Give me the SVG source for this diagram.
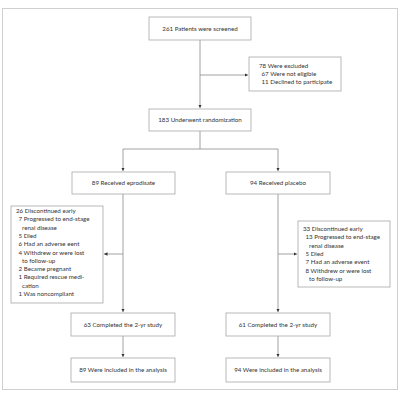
<svg xmlns="http://www.w3.org/2000/svg" width="400" height="400" viewBox="0 0 400 400">
<defs>
<marker id="ah" viewBox="0 0 6 6" refX="6" refY="3" markerWidth="3.5" markerHeight="3.5" orient="auto" markerUnits="userSpaceOnUse">
<path d="M0,0 L6,3 L0,6 z" fill="#333"/>
</marker>
<style>
.box{fill:#fff;stroke:#a8a8a8;stroke-width:0.8}
.ln{fill:none;stroke:#8a8a8a;stroke-width:0.8}
.t{font-family:Lato,"Open Sans",sans-serif;font-size:6.2px;fill:#333;font-variant-numeric:lining-nums;font-feature-settings:"lnum" 1,"onum" 0}
.c{text-anchor:middle}
</style>
</defs>
<rect x="0" y="0" width="400" height="400" fill="#fff"/>
<rect x="2.5" y="8.5" width="395" height="381" fill="none" stroke="#d0d0d0" stroke-width="1"/>
<g id="connectors">
<path class="ln" d="M200,40 V108" marker-end="url(#ah)"/>
<path class="ln" d="M200,75 H248" marker-end="url(#ah)"/>
<path class="ln" d="M200,131 V149 M123,149 H278"/>
<path class="ln" d="M123,149 V171" marker-end="url(#ah)"/>
<path class="ln" d="M278,149 V171" marker-end="url(#ah)"/>
<path class="ln" d="M123,194 V312" marker-end="url(#ah)"/>
<path class="ln" d="M278,194 V312" marker-end="url(#ah)"/>
<path class="ln" d="M123,254 H104" marker-end="url(#ah)"/>
<path class="ln" d="M278,254 H297" marker-end="url(#ah)"/>
<path class="ln" d="M123,336 V357" marker-end="url(#ah)"/>
<path class="ln" d="M278,336 V357" marker-end="url(#ah)"/>
</g>
<g id="screened"><rect class="box" x="149" y="17" width="102" height="23"/><text class="t c" x="200" y="30.5">261 Patients were screened</text></g>
<g id="excluded"><rect class="box" x="249" y="57" width="92" height="34"/>
<text class="t" x="259" y="68">78 Were excluded</text>
<text class="t" x="261.5" y="76">67 Were not eligible</text>
<text class="t" x="261.5" y="84">11 Declined to participate</text></g>
<g id="randomization"><rect class="box" x="149" y="109" width="102" height="22"/><text class="t c" x="200" y="122">183 Underwent randomization</text></g>
<g id="eprodisate"><rect class="box" x="72" y="172" width="103" height="22"/><text class="t c" x="123.5" y="185">89 Received eprodisate</text></g>
<g id="placebo"><rect class="box" x="226" y="172" width="104" height="22"/><text class="t c" x="278" y="185">94 Received placebo</text></g>
<g id="disc-left"><rect class="box" x="11" y="206" width="92" height="97"/>
<text class="t" x="16" y="213">26 Discontinued early</text>
<text class="t" x="18.5" y="221.3">7 Progressed to end-stage</text>
<text class="t" x="22" y="229.6">renal disease</text>
<text class="t" x="18.5" y="237.9">5 Died</text>
<text class="t" x="18.5" y="246.2">6 Had an adverse eent</text>
<text class="t" x="18.5" y="254.5">4 Withdrew or were lost</text>
<text class="t" x="22" y="262.8">to follow-up</text>
<text class="t" x="18.5" y="271.1">2 Became pregnant</text>
<text class="t" x="18.5" y="279.4">1 Required rescue medi-</text>
<text class="t" x="22" y="287.7">cation</text>
<text class="t" x="18.5" y="296">1 Was noncompliant</text></g>
<g id="disc-right"><rect class="box" x="298" y="221" width="92" height="66"/>
<text class="t" x="303" y="231">33 Discontinued early</text>
<text class="t" x="305.5" y="239.3">13 Progressed to end-stage</text>
<text class="t" x="309" y="247.6">renal disease</text>
<text class="t" x="305.5" y="255.9">5 Died</text>
<text class="t" x="305.5" y="264.2">7 Had an adverse event</text>
<text class="t" x="305.5" y="272.5">8 Withdrew or were lost</text>
<text class="t" x="309" y="280.8">to follow-up</text></g>
<g id="completed-left"><rect class="box" x="71" y="313" width="104" height="23"/><text class="t c" x="123" y="326.5">63 Completed the 2-yr study</text></g>
<g id="completed-right"><rect class="box" x="226" y="313" width="104" height="23"/><text class="t c" x="278" y="326.5">61 Completed the 2-yr study</text></g>
<g id="analysis-left"><rect class="box" x="71" y="358" width="104" height="24"/><text class="t c" x="123" y="372">89 Were included in the analysis</text></g>
<g id="analysis-right"><rect class="box" x="226" y="358" width="104" height="24"/><text class="t c" x="278" y="372">94 Were included in the analysis</text></g>
</svg>
